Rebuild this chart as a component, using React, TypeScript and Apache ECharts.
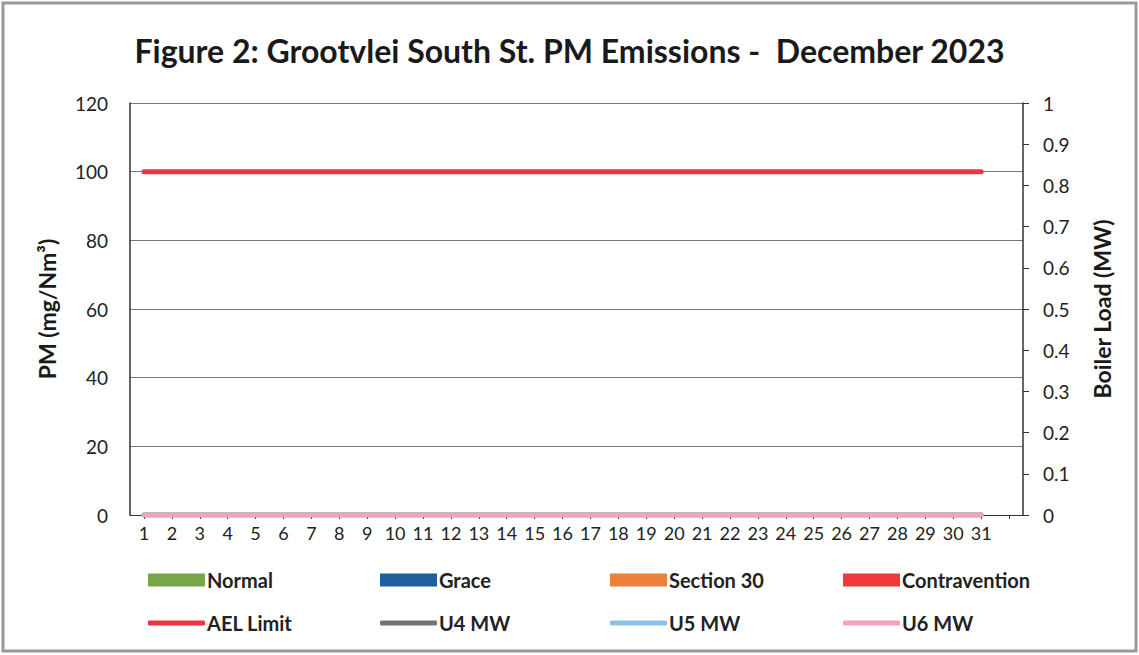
import React, { useEffect, useRef } from "react";
import * as echarts from "echarts";

const days = Array.from({ length: 31 }, (_, i) => String(i + 1));
const categories = [...days, ""];
const normal = [0, 0, 0, 0, 0, 0, 0, 0, 0, 0, 0, 0, 0, 0, 0, 0, 0, 0, 0, 0, 0, 0, 0, 0, 0, 0, 0, 0, 0, 0, 0];
const grace = [0, 0, 0, 0, 0, 0, 0, 0, 0, 0, 0, 0, 0, 0, 0, 0, 0, 0, 0, 0, 0, 0, 0, 0, 0, 0, 0, 0, 0, 0, 0];
const section30 = [0, 0, 0, 0, 0, 0, 0, 0, 0, 0, 0, 0, 0, 0, 0, 0, 0, 0, 0, 0, 0, 0, 0, 0, 0, 0, 0, 0, 0, 0, 0];
const contravention = [0, 0, 0, 0, 0, 0, 0, 0, 0, 0, 0, 0, 0, 0, 0, 0, 0, 0, 0, 0, 0, 0, 0, 0, 0, 0, 0, 0, 0, 0, 0];
const aelLimit = [100, 100, 100, 100, 100, 100, 100, 100, 100, 100, 100, 100, 100, 100, 100, 100, 100, 100, 100, 100, 100, 100, 100, 100, 100, 100, 100, 100, 100, 100, 100];
const u4 = [0, 0, 0, 0, 0, 0, 0, 0, 0, 0, 0, 0, 0, 0, 0, 0, 0, 0, 0, 0, 0, 0, 0, 0, 0, 0, 0, 0, 0, 0, 0];
const u5 = [0, 0, 0, 0, 0, 0, 0, 0, 0, 0, 0, 0, 0, 0, 0, 0, 0, 0, 0, 0, 0, 0, 0, 0, 0, 0, 0, 0, 0, 0, 0];
const u6 = [0, 0, 0, 0, 0, 0, 0, 0, 0, 0, 0, 0, 0, 0, 0, 0, 0, 0, 0, 0, 0, 0, 0, 0, 0, 0, 0, 0, 0, 0, 0];

const FONT = "Lato";

export default function App() {
  const ref = useRef<HTMLDivElement>(null);
  useEffect(() => {
    if (!ref.current) return;
    const chart = echarts.init(ref.current, null, { renderer: "svg" });
    const barNames = [
      { name: "Normal", color: "#77a64a", left: 143 },
      { name: "Grace", color: "#1f5f99", left: 375 },
      { name: "Section 30", color: "#ec7f3a", left: 605 },
      { name: "Contravention", color: "#ee3a3a", left: 838 },
    ];
    const lineNames = [
      { name: "AEL Limit", color: "#ef3340", left: 143 },
      { name: "U4 MW", color: "#6e7675", left: 375 },
      { name: "U5 MW", color: "#8ec1e8", left: 605 },
      { name: "U6 MW", color: "#f4a3b5", left: 838 },
    ];
    const legendText = { fontFamily: FONT, fontSize: 20, fontWeight: "bold", color: "#222", padding: [0, 0, 0, -3] };
    const legends: any[] = [];
    barNames.forEach((b) => {
      legends.push({
        data: [b.name],
        left: b.left,
        top: 565,
        icon: "rect",
        itemWidth: 57,
        itemHeight: 13,
        textStyle: legendText,
        selectedMode: false,
      });
    });
    lineNames.forEach((b) => {
      legends.push({
        data: [b.name],
        left: b.left,
        top: 608,
        icon: "roundRect",
        itemWidth: 57,
        itemHeight: 5,
        textStyle: legendText,
        selectedMode: false,
      });
    });
    const barData = [normal, grace, section30, contravention];
    const lineData = [aelLimit, u4, u5, u6];
    const option: any = {
      animation: false,
      backgroundColor: "#fff",
      title: {
        text: "Figure 2: Grootvlei South St. PM Emissions -  December 2023",
        left: "center",
        top: 29,
        textStyle: { fontFamily: FONT, fontSize: 32, fontWeight: "bold", color: "#1a1a1a" },
      },
      legend: legends,
      grid: { left: 130, right: 116, top: 103, bottom: 140 },
      xAxis: {
        type: "category",
        data: categories,
        boundaryGap: true,
        axisLine: { show: true, lineStyle: { color: "#333", width: 1 } },
        axisTick: { show: true, alignWithLabel: true, interval: 0, length: 4, lineStyle: { color: "#333" } },
        axisLabel: { interval: 0, fontFamily: FONT, fontSize: 18, color: "#222", margin: 9 },
        splitLine: { show: false },
      },
      yAxis: [
        {
          type: "value",
          min: 0,
          max: 120,
          interval: 20,
          name: "PM (mg/Nm³)",
          nameLocation: "middle",
          nameGap: 72,
          nameTextStyle: { fontFamily: FONT, fontSize: 23, fontWeight: "bold", color: "#1a1a1a" },
          axisLine: { show: true, lineStyle: { color: "#333", width: 1.5 } },
          axisTick: { show: false },
          axisLabel: { fontFamily: FONT, fontSize: 19, color: "#222", margin: 22 },
          splitLine: { show: true, lineStyle: { color: "#777", width: 1 } },
        },
        {
          type: "value",
          min: 0,
          max: 1,
          interval: 0.1,
          position: "right",
          name: "Boiler Load (MW)",
          nameLocation: "middle",
          nameGap: 67,
          nameRotate: 90,
          nameTextStyle: { fontFamily: FONT, fontSize: 23, fontWeight: "bold", color: "#1a1a1a" },
          axisLine: { show: true, lineStyle: { color: "#333", width: 1.5 } },
          axisTick: { show: true, length: 6, lineStyle: { color: "#333" } },
          axisLabel: { fontFamily: FONT, fontSize: 19, color: "#222", margin: 20 },
          splitLine: { show: false },
        },
      ],
      series: [
        ...barNames.map((b, i) => ({
          name: b.name,
          type: "bar",
          stack: "pm",
          yAxisIndex: 0,
          data: barData[i],
          itemStyle: { color: b.color },
          barWidth: "60%",
        })),
        ...lineNames.map((l, i) => ({
          name: l.name,
          type: "line",
          yAxisIndex: i === 0 ? 0 : 1,
          data: lineData[i],
          symbol: "none",
          lineStyle: { color: l.color, width: 5, cap: "round" },
          itemStyle: { color: l.color },
          z: 3 + i,
        })),
      ],
      graphic: [
        {
          type: "rect",
          shape: { x: 3, y: 3, width: 1133, height: 648 },
          style: { fill: "none", stroke: "#999", lineWidth: 3 },
          silent: true,
        },
      ],
    };
    chart.setOption(option);
    return () => chart.dispose();
  }, []);
  return (
    <div
      ref={ref}
      style={{ position: "fixed", left: 0, top: 0, width: 1139, height: 655 }}
    />
  );
}
